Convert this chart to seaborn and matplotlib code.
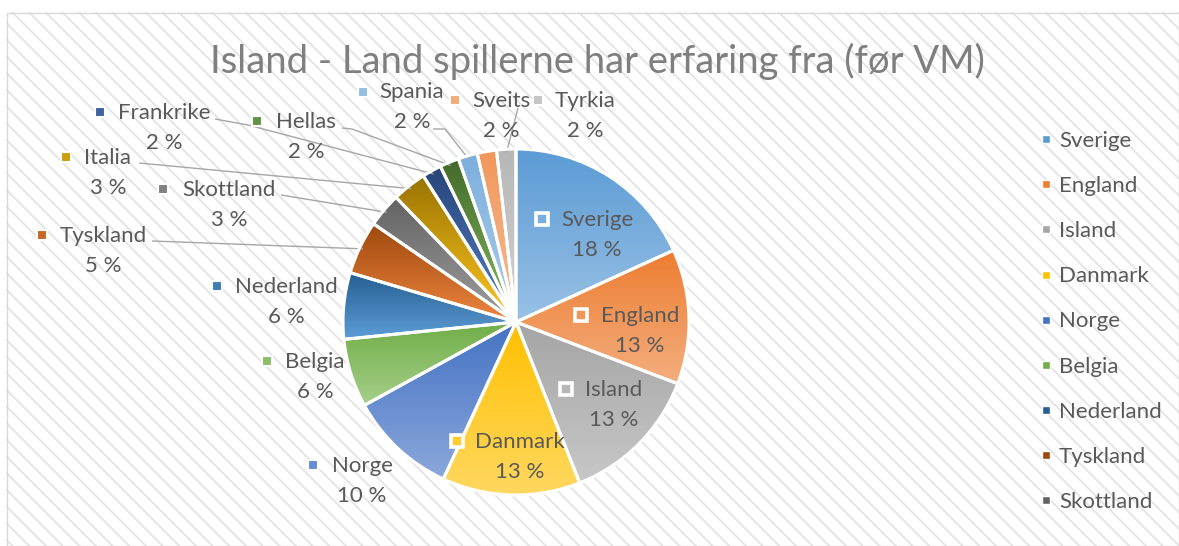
import colorsys
import numpy as np
import matplotlib.pyplot as plt
import matplotlib.colors as mcolors
import seaborn as sns
from matplotlib.patches import Rectangle
from matplotlib.lines import Line2D

land = ['Sverige', 'England', 'Island', 'Danmark', 'Norge', 'Belgia', 'Nederland',
        'Tyskland', 'Skottland', 'Italia', 'Frankrike', 'Hellas', 'Spania', 'Sveits', 'Tyrkia']
andel = [18.2, 12.6, 13.2, 12.9, 10.1, 6.4, 6.2, 5.0, 3.2, 3.2, 1.8, 1.8, 1.8, 1.8, 1.8]
farger = ['#5B9BD5', '#ED7D31', '#A5A5A5', '#FFC000', '#4472C4', '#70AD47', '#255E91',
          '#9E480E', '#636363', '#997300', '#264478', '#43682B', '#7CAFDD', '#F1975A', '#B7B7B7']
tittel = 'Island - Land spillerne har erfaring fra (før VM)'
legend_land = land[:9]

W, H = 1179, 546
sns.set_theme(style='white')
plt.rcParams['font.family'] = ['Lato', 'DejaVu Sans']
plt.rcParams['hatch.linewidth'] = 1.3
tekst_farge = '#595959'

# label layout in pixels from top-left: (key square), (name centre)
inne = ['Sverige', 'England', 'Island', 'Danmark']
etikett_pos = {
    'Sverige': ((542, 219), (597, 220)),
    'England': ((581, 315), (640, 316)),
    'Island': ((566, 389), (614, 390)),
    'Danmark': ((457, 441), (520, 442)),
    'Norge': ((313, 465), (362, 466)),
    'Belgia': ((267, 361), (315, 362)),
    'Nederland': ((217, 286), (286, 287)),
    'Tyskland': ((42, 235), (103, 236)),
    'Skottland': ((163, 189), (229, 190)),
    'Italia': ((66, 157), (108, 158)),
    'Frankrike': ((100, 112), (164, 113)),
    'Hellas': ((257, 121), (306, 122)),
    'Spania': ((363, 92), (412, 92)),
    'Sveits': ((455, 100), (501, 101)),
    'Tyrkia': ((538, 100), (585, 101)),
}
leder = {
    'Tyskland': [(152, 241)],
    'Skottland': [(281, 195)],
    'Italia': [(139, 163)],
    'Frankrike': [(215, 119), (248, 125)],
    'Hellas': [(342, 128), (352, 129)],
    'Spania': [(433, 129), (445, 129)],
    'Tyrkia': [(518, 108)],
}


def px(x, y):
    return x, H - y


def lys(c, f):
    r, g, b = mcolors.to_rgb(c)
    h, l, s = colorsys.rgb_to_hls(r, g, b)
    return np.array(colorsys.hls_to_rgb(h, l + (1 - l) * f, s))


fig = plt.figure(figsize=(W / 100, H / 100), dpi=100)
ax = fig.add_axes([0, 0, 1, 1])

# hatched chart area + border
ax.add_patch(Rectangle((6, 0), W - 6, H - 12, facecolor='white', edgecolor='#e4e4e4',
                       hatch='\\\\', lw=0, zorder=0))
ax.add_patch(Rectangle((6.5, 0), W - 7, H - 12.5, fill=False, edgecolor='#d9d9d9', lw=1, zorder=0.5))

senter = px(516, 322)
radius = 173
wedges, _ = ax.pie(andel, colors=farger, startangle=90, counterclock=False,
                   center=senter, radius=radius,
                   wedgeprops=dict(edgecolor='white', linewidth=2.2))

t = np.linspace(0, 1, 128)[:, None]
for w, c in zip(wedges, farger):
    v = w.get_path().vertices
    topp = np.array(mcolors.to_rgb(c))
    bunn = lys(c, 0.38)
    grad = bunn * (1 - t) + topp * t
    img = ax.imshow(grad[:, None, :], extent=(v[:, 0].min(), v[:, 0].max(), v[:, 1].min(), v[:, 1].max()),
                    origin='lower', aspect='auto', interpolation='bilinear', zorder=1)
    img.set_clip_path(w)
    w.set_facecolor('none')
    w.set_zorder(2)

# leader lines from label to slice edge
for navn, punkter in leder.items():
    w = wedges[land.index(navn)]
    mid = np.deg2rad((w.theta1 + w.theta2) / 2)
    ende = (senter[0] + 0.98 * radius * np.cos(mid), senter[1] + 0.98 * radius * np.sin(mid))
    xs = [p[0] for p in punkter] + [ende[0]]
    ys = [H - p[1] for p in punkter] + [ende[1]]
    ax.plot(xs, ys, color='#a6a6a6', lw=1, zorder=1.5, solid_capstyle='butt')

# data labels
for i, navn in enumerate(land):
    (kx, ky), (tx, ty) = etikett_pos[navn]
    c = (np.array(mcolors.to_rgb(farger[i])) + lys(farger[i], 0.38)) / 2
    if navn in inne:
        ax.plot(*px(kx, ky), marker='s', ms=9, mfc=c, mec='white', mew=2.6, zorder=4)
    else:
        ax.plot(*px(kx, ky), marker='s', ms=6.5, mfc=c, mec='white', mew=1.5, zorder=4)
    ax.text(*px(tx, ty), navn, ha='center', va='center', fontsize=16, color=tekst_farge, zorder=4)
    ax.text(*px(tx, ty + 30), f'{round(andel[i])} %', ha='center', va='center',
            fontsize=16, color=tekst_farge, zorder=4)

handles = [Line2D([], [], marker='s', linestyle='none', ms=6, mfc=farger[i], mec='white', mew=1)
           for i in range(len(legend_land))]
ax.legend(handles, legend_land, loc='upper left', bbox_to_anchor=px(1040, 131),
          bbox_transform=ax.transData, frameon=False, fontsize=16, labelcolor=tekst_farge,
          handlelength=0.55, handletextpad=0.3, labelspacing=1.13, borderpad=0, borderaxespad=0)

fig.text(597 / W, 1 - 61 / H, tittel, ha='center', va='center', fontsize=27.5,
         color='#7f7f7f')

ax.set_xlim(0, W)
ax.set_ylim(0, H)
ax.axis('off')
fig.savefig('out.png', dpi=100, facecolor='white')
